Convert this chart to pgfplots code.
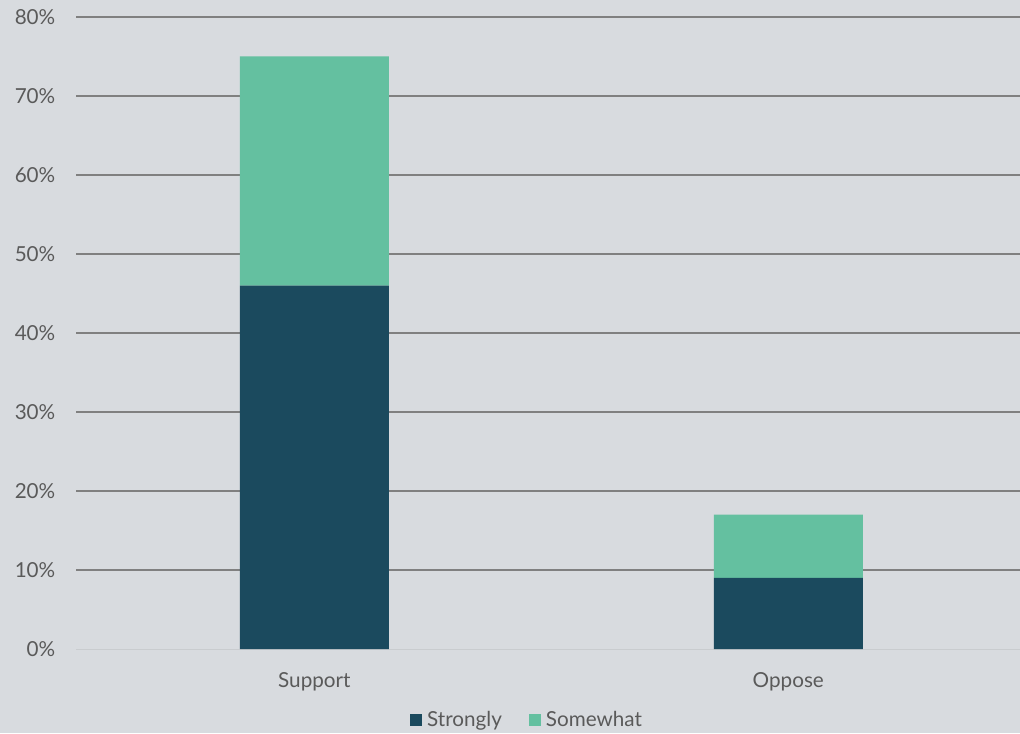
\documentclass[border=0pt]{standalone}
\usepackage{pgfplots}
\pgfplotsset{compat=1.18}
\usepackage{fontspec}
\setmainfont{Lato}
\definecolor{bg}{RGB}{216,219,223}
\definecolor{strong}{RGB}{27,74,94}
\definecolor{some}{RGB}{100,192,160}
\definecolor{txt}{RGB}{90,90,90}
\definecolor{gridc}{RGB}{128,128,128}
\begin{document}
\begin{tikzpicture}
\fill[bg] (0,0) rectangle (765pt,549.75pt);
\begin{axis}[
  at={(57pt,63pt)}, anchor=south west,
  scale only axis, width=708pt, height=474pt,
  ybar stacked, bar width=111.75pt,
  xmin=-0.503, xmax=1.489,
  ymin=0, ymax=80,
  xtick={0,1}, xticklabels={Support,Oppose},
  ytick={10,20,...,80},
  yticklabels={10\%,20\%,30\%,40\%,50\%,60\%,70\%,80\%},
  extra y ticks={0}, extra y tick labels={0\%},
  extra y tick style={major grid style={color=bg!93!black, line width=0.6pt}},
  ymajorgrids, major grid style={color=gridc, line width=0.9pt},
  axis line style={draw=none},
  major tick length=0pt,
  tick label style={font=\fontsize{15.5}{18}\selectfont, text=txt},
  yticklabel style={xshift=-12pt},
  xticklabel style={yshift=-14pt},
  legend style={at={(0.478,-0.112)}, anchor=center, draw=none, fill=none,
    legend columns=2, font=\fontsize{15.5}{18}\selectfont, text=txt,
    /tikz/every odd column/.append style={column sep=2pt},
    /tikz/every even column/.append style={column sep=18pt}},
  legend image code/.code={\fill[#1] (0pt,-4.5pt) rectangle (9pt,4.5pt);},
  clip=false,
]
\addplot[fill=strong, draw=none] coordinates {(0,46) (1,9)};
\addplot[fill=some, draw=none] coordinates {(0,29) (1,8)};
\legend{Strongly,Somewhat}
\end{axis}
\pgfresetboundingbox
\path (0,0) rectangle (765pt,549.75pt);
\end{tikzpicture}
\end{document}
